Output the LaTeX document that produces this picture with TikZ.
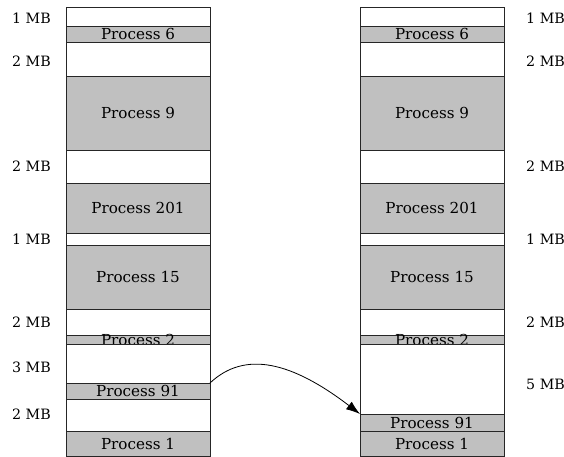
\documentclass[tikz,border=0pt]{standalone}
\usepackage{fontspec}
\setmainfont{DejaVu Serif}
\usetikzlibrary{arrows.meta}
\definecolor{procgray}{RGB}{192,192,192}
\tikzset{
  x=1bp, y=-1bp,
  memcell/.style={draw=black!85, line width=0.8bp, minimum width=144bp,
    inner sep=0pt, outer sep=0pt, anchor=north west},
  freecell/.style={memcell, fill=white},
  proccell/.style={memcell, fill=procgray},
  sizelabel/.style={font=\fontsize{14.3}{16}\selectfont, inner sep=0pt},
  leftsize/.style={sizelabel, anchor=east},
  rightsize/.style={sizelabel, anchor=west},
  proclabel/.style={font=\fontsize{15.2}{17}\selectfont, inner sep=0pt},
  moveArrow/.style={line width=0.8bp, -{Latex[length=14bp,width=9.5bp]}}
}
% \memcell{name}{x}{top}{bottom}{style}{text}
\newcommand\memcell[6]{%
  \pgfmathsetmacro\cellh{#4-#3}%
  \node[#5, minimum height=\cellh bp,
        label={[proclabel]center:#6}] (#1) at (#2,#3) {};%
}
\begin{document}
\begin{tikzpicture}
\useasboundingbox (0,0) rectangle (564,457);
% memory before compaction
\memcell{L0}{66}{7}{26}{freecell}{}
\memcell{L1}{66}{26}{42}{proccell}{Process 6}
\memcell{L2}{66}{42}{76}{freecell}{}
\memcell{L3}{66}{76}{150}{proccell}{Process 9}
\memcell{L4}{66}{150}{183}{freecell}{}
\memcell{L5}{66}{183}{233}{proccell}{Process 201}
\memcell{L6}{66}{233}{245}{freecell}{}
\memcell{L7}{66}{245}{309}{proccell}{Process 15}
\memcell{L8}{66}{309}{335}{freecell}{}
\memcell{L9}{66}{335}{344}{proccell}{Process 2}
\memcell{L10}{66}{344}{383}{freecell}{}
\memcell{L11}{66}{383}{399}{proccell}{Process 91}
\memcell{L12}{66}{399}{431}{freecell}{}
\memcell{L13}{66}{431}{456}{proccell}{Process 1}
% memory after moving process 91
\memcell{R0}{360}{7}{26}{freecell}{}
\memcell{R1}{360}{26}{42}{proccell}{Process 6}
\memcell{R2}{360}{42}{76}{freecell}{}
\memcell{R3}{360}{76}{150}{proccell}{Process 9}
\memcell{R4}{360}{150}{183}{freecell}{}
\memcell{R5}{360}{183}{233}{proccell}{Process 201}
\memcell{R6}{360}{233}{245}{freecell}{}
\memcell{R7}{360}{245}{309}{proccell}{Process 15}
\memcell{R8}{360}{309}{335}{freecell}{}
\memcell{R9}{360}{335}{344}{proccell}{Process 2}
\memcell{R10}{360}{344}{414}{freecell}{}
\memcell{R11}{360}{414}{431}{proccell}{Process 91}
\memcell{R12}{360}{431}{456}{proccell}{Process 1}
% hole sizes
\node[leftsize] (sl0) at (51,18) {1 MB};
\node[leftsize] (sl1) at (51,61) {2 MB};
\node[leftsize] (sl2) at (51,166) {2 MB};
\node[leftsize] (sl3) at (51,239) {1 MB};
\node[leftsize] (sl4) at (51,322) {2 MB};
\node[leftsize] (sl5) at (51,367) {3 MB};
\node[leftsize] (sl6) at (51,414) {2 MB};
\node[rightsize] (sr0) at (526,18) {1 MB};
\node[rightsize] (sr1) at (526,61) {2 MB};
\node[rightsize] (sr2) at (526,166) {2 MB};
\node[rightsize] (sr3) at (526,239) {1 MB};
\node[rightsize] (sr4) at (526,322) {2 MB};
\node[rightsize] (sr5) at (526,384) {5 MB};
% relocation of process 91
\draw[moveArrow] (L11.north east) .. controls (245,350) and (292,362) .. (R11.north west);
\end{tikzpicture}
\end{document}
